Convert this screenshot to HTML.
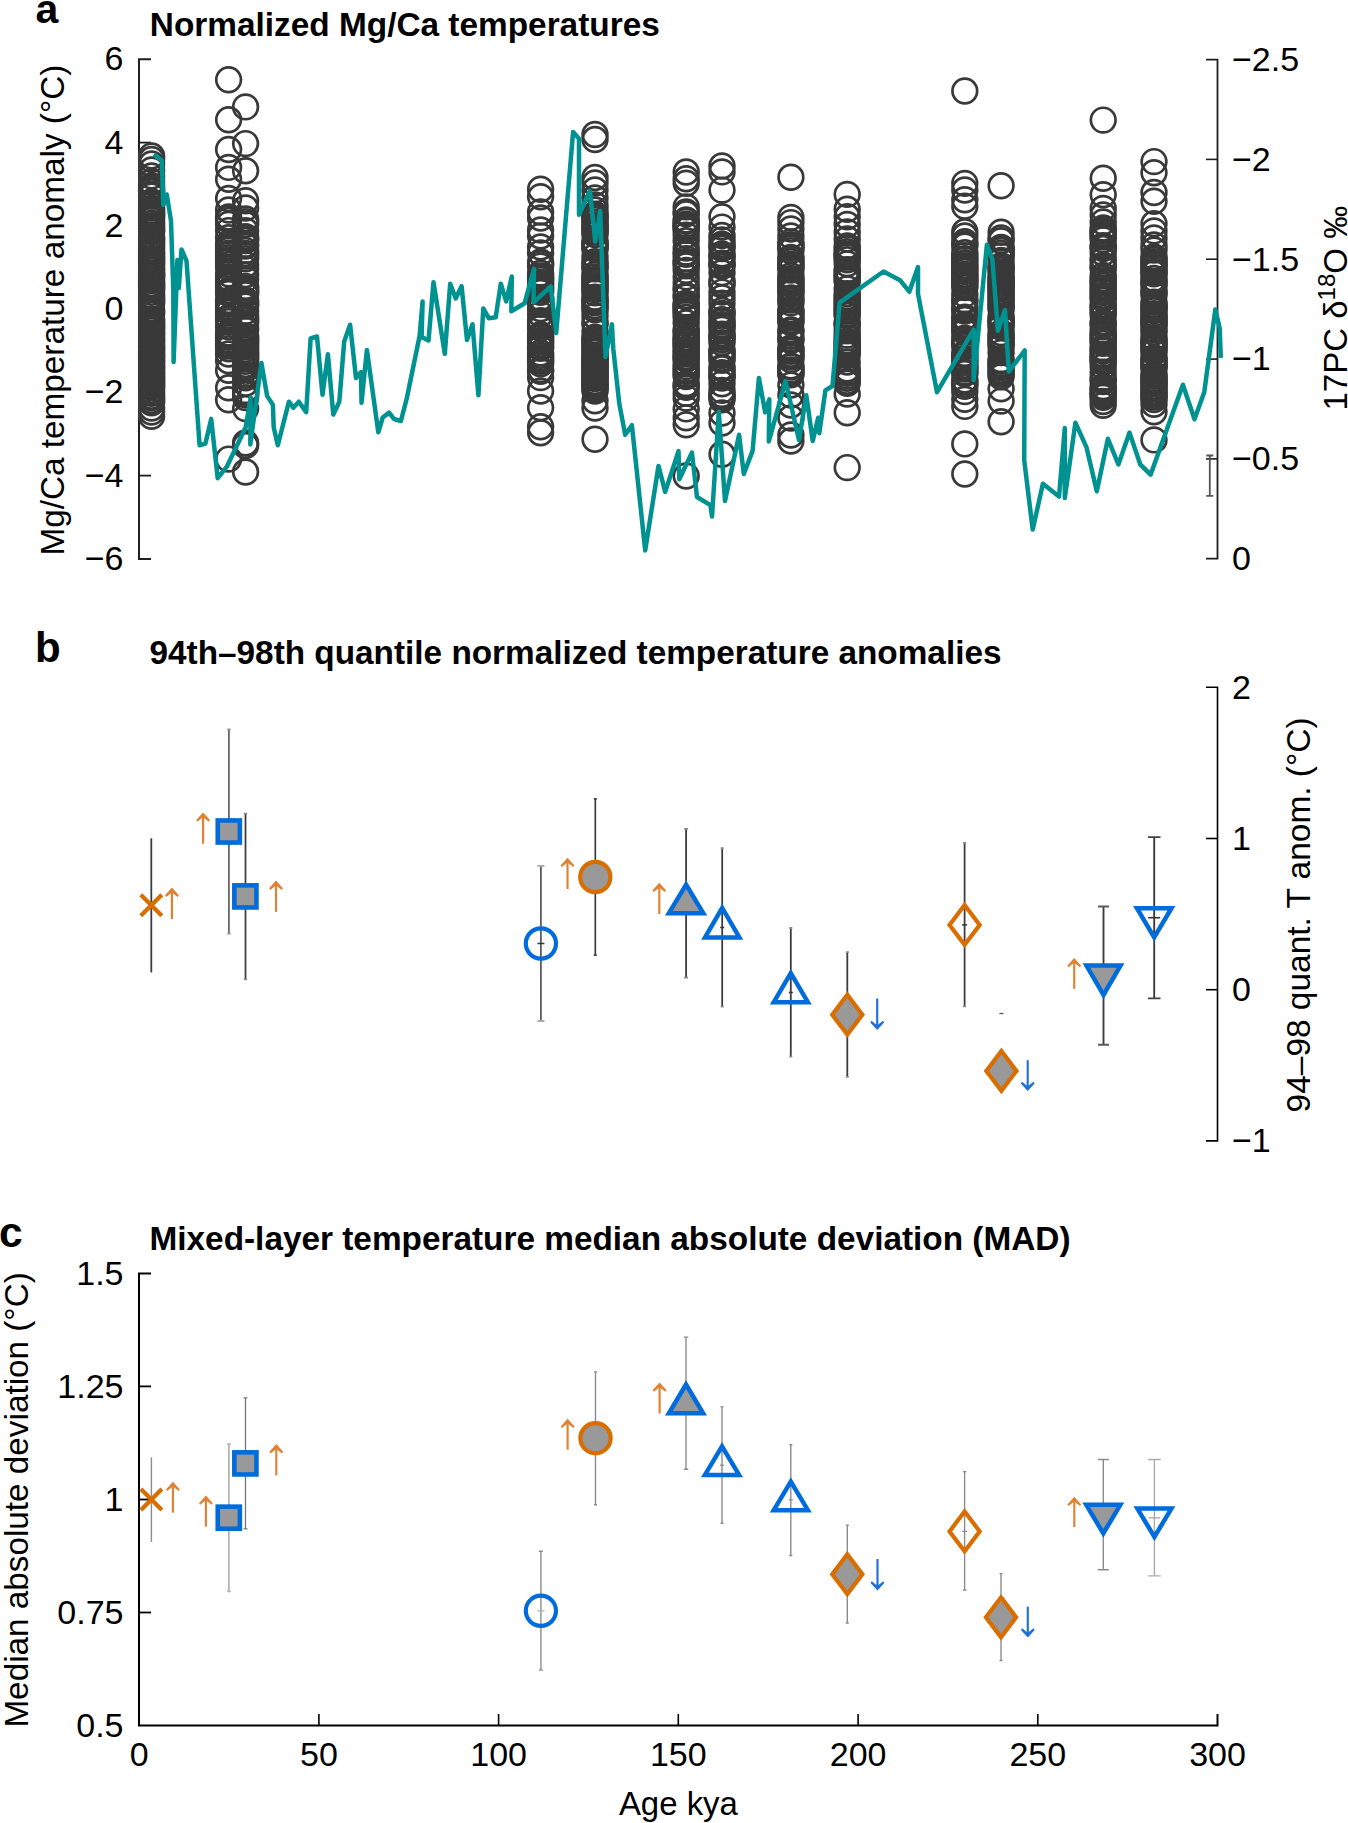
<!DOCTYPE html>
<html><head><meta charset="utf-8"><style>
html,body{margin:0;padding:0;background:#fff;width:1348px;height:1823px;overflow:hidden}
svg{display:block}
text{fill:#000}
</style></head><body>
<svg width="1348" height="1823" viewBox="0 0 1348 1823" font-family='"Liberation Sans", sans-serif'>
<text x="35.5" y="22.6" font-size="41" text-anchor="start" font-weight="bold" >a</text>
<text x="35.0" y="662.2" font-size="42" text-anchor="start" font-weight="bold" >b</text>
<text x="-1.0" y="1246.7" font-size="42.5" text-anchor="start" font-weight="bold" >c</text>
<text x="149.8" y="36.3" font-size="33" text-anchor="start" font-weight="bold" textLength="510" lengthAdjust="spacingAndGlyphs">Normalized Mg/Ca temperatures</text>
<text x="149.5" y="664.4" font-size="33" text-anchor="start" font-weight="bold" textLength="852" lengthAdjust="spacingAndGlyphs">94th–98th quantile normalized temperature anomalies</text>
<text x="149.5" y="1249.8" font-size="33" text-anchor="start" font-weight="bold" textLength="921" lengthAdjust="spacingAndGlyphs">Mixed-layer temperature median absolute deviation (MAD)</text>
<path d="M151,59.3 H139 V558.9 H151" fill="none" stroke="#1f1f1f" stroke-width="2"/>
<path d="M139,142.6 H151" stroke="#1f1f1f" stroke-width="1.8"/>
<path d="M139,225.8 H151" stroke="#1f1f1f" stroke-width="1.8"/>
<path d="M139,309.1 H151" stroke="#1f1f1f" stroke-width="1.8"/>
<path d="M139,392.4 H151" stroke="#1f1f1f" stroke-width="1.8"/>
<path d="M139,475.6 H151" stroke="#1f1f1f" stroke-width="1.8"/>
<text x="123.5" y="70.3" font-size="34" text-anchor="end" font-weight="normal" >6</text>
<text x="123.5" y="153.6" font-size="34" text-anchor="end" font-weight="normal" >4</text>
<text x="123.5" y="236.8" font-size="34" text-anchor="end" font-weight="normal" >2</text>
<text x="123.5" y="320.1" font-size="34" text-anchor="end" font-weight="normal" >0</text>
<text x="123.5" y="403.4" font-size="34" text-anchor="end" font-weight="normal" >−2</text>
<text x="123.5" y="486.6" font-size="34" text-anchor="end" font-weight="normal" >−4</text>
<text x="123.5" y="569.9" font-size="34" text-anchor="end" font-weight="normal" >−6</text>
<path d="M1206,59.6 H1217.5 V558.7 H1206" fill="none" stroke="#1f1f1f" stroke-width="1.8"/>
<path d="M1206,159.4 H1217.5" stroke="#1f1f1f" stroke-width="1.6"/>
<path d="M1206,259.2 H1217.5" stroke="#1f1f1f" stroke-width="1.6"/>
<path d="M1206,359.1 H1217.5" stroke="#1f1f1f" stroke-width="1.6"/>
<path d="M1206,458.9 H1217.5" stroke="#1f1f1f" stroke-width="1.6"/>
<text x="1232.0" y="70.9" font-size="34" text-anchor="start" font-weight="normal" >−2.5</text>
<text x="1232.0" y="170.7" font-size="34" text-anchor="start" font-weight="normal" >−2</text>
<text x="1232.0" y="270.5" font-size="34" text-anchor="start" font-weight="normal" >−1.5</text>
<text x="1232.0" y="370.4" font-size="34" text-anchor="start" font-weight="normal" >−1</text>
<text x="1232.0" y="470.2" font-size="34" text-anchor="start" font-weight="normal" >−0.5</text>
<text x="1232.0" y="570.0" font-size="34" text-anchor="start" font-weight="normal" >0</text>
<text transform="translate(64.3,555.6) rotate(-90)" font-size="34" textLength="491" lengthAdjust="spacingAndGlyphs">Mg/Ca temperature anomaly (°C)</text>
<text transform="translate(1347,410.5) rotate(-90)" font-size="33">17PC δ<tspan font-size="24" dy="-12">18</tspan><tspan dy="12">O ‰</tspan></text>
<path d="M1206,687.3 H1217.5 V1140.9 H1206" fill="none" stroke="#000" stroke-width="1.6"/>
<path d="M1206,838.5 H1217.5" stroke="#000" stroke-width="1.6"/>
<path d="M1206,989.7 H1217.5" stroke="#000" stroke-width="1.6"/>
<text x="1232.0" y="698.6" font-size="34" text-anchor="start" font-weight="normal" >2</text>
<text x="1232.0" y="849.8" font-size="34" text-anchor="start" font-weight="normal" >1</text>
<text x="1232.0" y="1001.0" font-size="34" text-anchor="start" font-weight="normal" >0</text>
<text x="1232.0" y="1152.2" font-size="34" text-anchor="start" font-weight="normal" >−1</text>
<text transform="translate(1309.6,1112.4) rotate(-90)" font-size="34" textLength="395" lengthAdjust="spacingAndGlyphs">94–98 quant. T anom. (°C)</text>
<path d="M151,1273.4 H139 V1725.5 H1217.5 V1714.0" fill="none" stroke="#000" stroke-width="2"/>
<path d="M139,1386.4 H151" stroke="#000" stroke-width="1.8"/>
<path d="M139,1499.5 H151" stroke="#000" stroke-width="1.8"/>
<path d="M139,1612.5 H151" stroke="#000" stroke-width="1.8"/>
<path d="M318.9,1725.5 V1714.0" stroke="#000" stroke-width="1.6"/>
<path d="M498.6,1725.5 V1714.0" stroke="#000" stroke-width="1.6"/>
<path d="M678.3,1725.5 V1714.0" stroke="#000" stroke-width="1.6"/>
<path d="M858.1,1725.5 V1714.0" stroke="#000" stroke-width="1.6"/>
<path d="M1037.8,1725.5 V1714.0" stroke="#000" stroke-width="1.6"/>
<text x="123.5" y="1284.7" font-size="34" text-anchor="end" font-weight="normal" >1.5</text>
<text x="123.5" y="1397.7" font-size="34" text-anchor="end" font-weight="normal" >1.25</text>
<text x="123.5" y="1510.8" font-size="34" text-anchor="end" font-weight="normal" >1</text>
<text x="123.5" y="1623.8" font-size="34" text-anchor="end" font-weight="normal" >0.75</text>
<text x="123.5" y="1736.8" font-size="34" text-anchor="end" font-weight="normal" >0.5</text>
<text x="139.2" y="1766.0" font-size="34" text-anchor="middle" font-weight="normal" >0</text>
<text x="318.9" y="1766.0" font-size="34" text-anchor="middle" font-weight="normal" >50</text>
<text x="498.6" y="1766.0" font-size="34" text-anchor="middle" font-weight="normal" >100</text>
<text x="678.3" y="1766.0" font-size="34" text-anchor="middle" font-weight="normal" >150</text>
<text x="858.1" y="1766.0" font-size="34" text-anchor="middle" font-weight="normal" >200</text>
<text x="1037.8" y="1766.0" font-size="34" text-anchor="middle" font-weight="normal" >250</text>
<text x="1217.5" y="1766.0" font-size="34" text-anchor="middle" font-weight="normal" >300</text>
<text x="678.4" y="1814.8" font-size="34" text-anchor="middle" font-weight="normal" textLength="119" lengthAdjust="spacingAndGlyphs">Age kya</text>
<text transform="translate(27.8,1727.6) rotate(-90)" font-size="34" textLength="455.4" lengthAdjust="spacingAndGlyphs">Median absolute deviation (°C)</text>
<g fill="none" stroke="#393939" stroke-width="2.7"><circle cx="151.6" cy="156.0" r="12.35"/><circle cx="151.6" cy="159.5" r="12.35"/><circle cx="151.6" cy="164.0" r="12.35"/><circle cx="151.6" cy="170.0" r="12.35"/><circle cx="151.6" cy="176.0" r="12.35"/><circle cx="151.6" cy="182.0" r="12.35"/><circle cx="151.6" cy="186.0" r="12.35"/><circle cx="151.6" cy="188.2" r="12.35"/><circle cx="151.6" cy="190.5" r="12.35"/><circle cx="151.6" cy="191.8" r="12.35"/><circle cx="151.6" cy="194.5" r="12.35"/><circle cx="151.6" cy="196.1" r="12.35"/><circle cx="151.6" cy="201.8" r="12.35"/><circle cx="151.6" cy="203.8" r="12.35"/><circle cx="151.6" cy="205.3" r="12.35"/><circle cx="151.6" cy="208.1" r="12.35"/><circle cx="151.6" cy="210.6" r="12.35"/><circle cx="151.6" cy="211.9" r="12.35"/><circle cx="151.6" cy="214.2" r="12.35"/><circle cx="151.6" cy="215.4" r="12.35"/><circle cx="151.6" cy="217.5" r="12.35"/><circle cx="151.6" cy="220.3" r="12.35"/><circle cx="151.6" cy="223.1" r="12.35"/><circle cx="151.6" cy="225.8" r="12.35"/><circle cx="151.6" cy="228.6" r="12.35"/><circle cx="151.6" cy="230.0" r="12.35"/><circle cx="151.6" cy="231.6" r="12.35"/><circle cx="151.6" cy="237.1" r="12.35"/><circle cx="151.6" cy="238.9" r="12.35"/><circle cx="151.6" cy="240.8" r="12.35"/><circle cx="151.6" cy="243.0" r="12.35"/><circle cx="151.6" cy="245.8" r="12.35"/><circle cx="151.6" cy="248.7" r="12.35"/><circle cx="151.6" cy="251.7" r="12.35"/><circle cx="151.6" cy="253.2" r="12.35"/><circle cx="151.6" cy="256.1" r="12.35"/><circle cx="151.6" cy="258.4" r="12.35"/><circle cx="151.6" cy="259.9" r="12.35"/><circle cx="151.6" cy="262.2" r="12.35"/><circle cx="151.6" cy="263.5" r="12.35"/><circle cx="151.6" cy="266.5" r="12.35"/><circle cx="151.6" cy="269.1" r="12.35"/><circle cx="151.6" cy="270.6" r="12.35"/><circle cx="151.6" cy="273.2" r="12.35"/><circle cx="151.6" cy="274.4" r="12.35"/><circle cx="151.6" cy="275.7" r="12.35"/><circle cx="151.6" cy="277.5" r="12.35"/><circle cx="151.6" cy="280.5" r="12.35"/><circle cx="151.6" cy="283.5" r="12.35"/><circle cx="151.6" cy="284.8" r="12.35"/><circle cx="151.6" cy="286.1" r="12.35"/><circle cx="151.6" cy="288.0" r="12.35"/><circle cx="151.6" cy="289.5" r="12.35"/><circle cx="151.6" cy="292.3" r="12.35"/><circle cx="151.6" cy="295.2" r="12.35"/><circle cx="151.6" cy="297.1" r="12.35"/><circle cx="151.6" cy="299.2" r="12.35"/><circle cx="151.6" cy="301.5" r="12.35"/><circle cx="151.6" cy="303.8" r="12.35"/><circle cx="151.6" cy="309.6" r="12.35"/><circle cx="151.6" cy="312.1" r="12.35"/><circle cx="151.6" cy="313.8" r="12.35"/><circle cx="151.6" cy="319.6" r="12.35"/><circle cx="151.6" cy="320.8" r="12.35"/><circle cx="151.6" cy="323.1" r="12.35"/><circle cx="151.6" cy="325.4" r="12.35"/><circle cx="151.6" cy="326.7" r="12.35"/><circle cx="151.6" cy="328.7" r="12.35"/><circle cx="151.6" cy="330.6" r="12.35"/><circle cx="151.6" cy="333.1" r="12.35"/><circle cx="151.6" cy="334.4" r="12.35"/><circle cx="151.6" cy="337.3" r="12.35"/><circle cx="151.6" cy="339.4" r="12.35"/><circle cx="151.6" cy="341.1" r="12.35"/><circle cx="151.6" cy="342.9" r="12.35"/><circle cx="151.6" cy="345.2" r="12.35"/><circle cx="151.6" cy="347.1" r="12.35"/><circle cx="151.6" cy="348.3" r="12.35"/><circle cx="151.6" cy="350.8" r="12.35"/><circle cx="151.6" cy="352.4" r="12.35"/><circle cx="151.6" cy="354.1" r="12.35"/><circle cx="151.6" cy="356.0" r="12.35"/><circle cx="151.6" cy="357.4" r="12.35"/><circle cx="151.6" cy="359.2" r="12.35"/><circle cx="151.6" cy="361.2" r="12.35"/><circle cx="151.6" cy="362.7" r="12.35"/><circle cx="151.6" cy="365.1" r="12.35"/><circle cx="151.6" cy="367.1" r="12.35"/><circle cx="151.6" cy="368.5" r="12.35"/><circle cx="151.6" cy="370.1" r="12.35"/><circle cx="151.6" cy="372.8" r="12.35"/><circle cx="151.6" cy="374.5" r="12.35"/><circle cx="151.6" cy="376.8" r="12.35"/><circle cx="151.6" cy="378.7" r="12.35"/><circle cx="151.6" cy="380.4" r="12.35"/><circle cx="151.6" cy="382.1" r="12.35"/><circle cx="151.6" cy="384.0" r="12.35"/><circle cx="151.6" cy="386.0" r="12.35"/><circle cx="151.6" cy="387.4" r="12.35"/><circle cx="151.6" cy="390.3" r="12.35"/><circle cx="151.6" cy="393.3" r="12.35"/><circle cx="151.6" cy="396.2" r="12.35"/><circle cx="151.6" cy="397.8" r="12.35"/><circle cx="151.6" cy="400.5" r="12.35"/><circle cx="151.6" cy="402.7" r="12.35"/><circle cx="151.6" cy="408.0" r="12.35"/><circle cx="151.6" cy="412.0" r="12.35"/><circle cx="151.6" cy="416.3" r="12.35"/><circle cx="228.6" cy="79.8" r="12.35"/><circle cx="228.6" cy="119.8" r="12.35"/><circle cx="228.6" cy="149.5" r="12.35"/><circle cx="228.6" cy="167.4" r="12.35"/><circle cx="228.6" cy="179.3" r="12.35"/><circle cx="228.6" cy="198.5" r="12.35"/><circle cx="228.6" cy="210.0" r="12.35"/><circle cx="228.6" cy="217.0" r="12.35"/><circle cx="228.6" cy="218.3" r="12.35"/><circle cx="228.6" cy="220.0" r="12.35"/><circle cx="228.6" cy="224.2" r="12.35"/><circle cx="228.6" cy="230.6" r="12.35"/><circle cx="228.6" cy="237.8" r="12.35"/><circle cx="228.6" cy="243.8" r="12.35"/><circle cx="228.6" cy="246.3" r="12.35"/><circle cx="228.6" cy="248.1" r="12.35"/><circle cx="228.6" cy="250.2" r="12.35"/><circle cx="228.6" cy="253.1" r="12.35"/><circle cx="228.6" cy="254.9" r="12.35"/><circle cx="228.6" cy="257.7" r="12.35"/><circle cx="228.6" cy="260.3" r="12.35"/><circle cx="228.6" cy="261.8" r="12.35"/><circle cx="228.6" cy="264.5" r="12.35"/><circle cx="228.6" cy="267.1" r="12.35"/><circle cx="228.6" cy="273.9" r="12.35"/><circle cx="228.6" cy="278.0" r="12.35"/><circle cx="228.6" cy="280.7" r="12.35"/><circle cx="228.6" cy="282.4" r="12.35"/><circle cx="228.6" cy="284.6" r="12.35"/><circle cx="228.6" cy="286.6" r="12.35"/><circle cx="228.6" cy="290.6" r="12.35"/><circle cx="228.6" cy="292.0" r="12.35"/><circle cx="228.6" cy="293.4" r="12.35"/><circle cx="228.6" cy="300.4" r="12.35"/><circle cx="228.6" cy="302.5" r="12.35"/><circle cx="228.6" cy="304.2" r="12.35"/><circle cx="228.6" cy="306.6" r="12.35"/><circle cx="228.6" cy="308.4" r="12.35"/><circle cx="228.6" cy="310.2" r="12.35"/><circle cx="228.6" cy="312.4" r="12.35"/><circle cx="228.6" cy="317.8" r="12.35"/><circle cx="228.6" cy="319.3" r="12.35"/><circle cx="228.6" cy="321.6" r="12.35"/><circle cx="228.6" cy="326.9" r="12.35"/><circle cx="228.6" cy="333.1" r="12.35"/><circle cx="228.6" cy="335.0" r="12.35"/><circle cx="228.6" cy="337.4" r="12.35"/><circle cx="228.6" cy="339.9" r="12.35"/><circle cx="228.6" cy="341.5" r="12.35"/><circle cx="228.6" cy="344.0" r="12.35"/><circle cx="228.6" cy="345.9" r="12.35"/><circle cx="228.6" cy="348.7" r="12.35"/><circle cx="228.6" cy="354.0" r="12.35"/><circle cx="228.6" cy="360.8" r="12.35"/><circle cx="228.6" cy="370.2" r="12.35"/><circle cx="228.6" cy="387.8" r="12.35"/><circle cx="228.6" cy="399.8" r="12.35"/><circle cx="228.6" cy="459.1" r="12.35"/><circle cx="245.6" cy="106.9" r="12.35"/><circle cx="245.6" cy="143.6" r="12.35"/><circle cx="245.6" cy="170.8" r="12.35"/><circle cx="245.6" cy="200.7" r="12.35"/><circle cx="245.6" cy="208.0" r="12.35"/><circle cx="245.6" cy="219.0" r="12.35"/><circle cx="245.6" cy="221.7" r="12.35"/><circle cx="245.6" cy="224.5" r="12.35"/><circle cx="245.6" cy="230.8" r="12.35"/><circle cx="245.6" cy="236.8" r="12.35"/><circle cx="245.6" cy="239.0" r="12.35"/><circle cx="245.6" cy="240.5" r="12.35"/><circle cx="245.6" cy="244.6" r="12.35"/><circle cx="245.6" cy="246.0" r="12.35"/><circle cx="245.6" cy="250.6" r="12.35"/><circle cx="245.6" cy="253.4" r="12.35"/><circle cx="245.6" cy="256.1" r="12.35"/><circle cx="245.6" cy="258.8" r="12.35"/><circle cx="245.6" cy="264.8" r="12.35"/><circle cx="245.6" cy="268.9" r="12.35"/><circle cx="245.6" cy="274.7" r="12.35"/><circle cx="245.6" cy="279.1" r="12.35"/><circle cx="245.6" cy="286.4" r="12.35"/><circle cx="245.6" cy="288.2" r="12.35"/><circle cx="245.6" cy="290.8" r="12.35"/><circle cx="245.6" cy="292.4" r="12.35"/><circle cx="245.6" cy="294.7" r="12.35"/><circle cx="245.6" cy="300.1" r="12.35"/><circle cx="245.6" cy="302.0" r="12.35"/><circle cx="245.6" cy="303.9" r="12.35"/><circle cx="245.6" cy="306.0" r="12.35"/><circle cx="245.6" cy="311.5" r="12.35"/><circle cx="245.6" cy="316.0" r="12.35"/><circle cx="245.6" cy="318.6" r="12.35"/><circle cx="245.6" cy="320.7" r="12.35"/><circle cx="245.6" cy="323.1" r="12.35"/><circle cx="245.6" cy="327.6" r="12.35"/><circle cx="245.6" cy="330.2" r="12.35"/><circle cx="245.6" cy="336.0" r="12.35"/><circle cx="245.6" cy="338.5" r="12.35"/><circle cx="245.6" cy="340.1" r="12.35"/><circle cx="245.6" cy="342.4" r="12.35"/><circle cx="245.6" cy="344.0" r="12.35"/><circle cx="245.6" cy="346.9" r="12.35"/><circle cx="245.6" cy="349.4" r="12.35"/><circle cx="245.6" cy="352.1" r="12.35"/><circle cx="245.6" cy="353.8" r="12.35"/><circle cx="245.6" cy="355.1" r="12.35"/><circle cx="245.6" cy="356.9" r="12.35"/><circle cx="245.6" cy="358.8" r="12.35"/><circle cx="245.6" cy="361.4" r="12.35"/><circle cx="245.6" cy="364.4" r="12.35"/><circle cx="245.6" cy="366.6" r="12.35"/><circle cx="245.6" cy="369.4" r="12.35"/><circle cx="245.6" cy="375.3" r="12.35"/><circle cx="245.6" cy="377.8" r="12.35"/><circle cx="245.6" cy="383.2" r="12.35"/><circle cx="245.6" cy="390.6" r="12.35"/><circle cx="245.6" cy="392.2" r="12.35"/><circle cx="245.6" cy="394.7" r="12.35"/><circle cx="245.6" cy="397.6" r="12.35"/><circle cx="245.6" cy="408.6" r="12.35"/><circle cx="245.6" cy="443.0" r="12.35"/><circle cx="245.6" cy="445.5" r="12.35"/><circle cx="245.6" cy="472.0" r="12.35"/><circle cx="540.6" cy="189.2" r="12.35"/><circle cx="540.6" cy="196.8" r="12.35"/><circle cx="540.6" cy="212.0" r="12.35"/><circle cx="540.6" cy="218.0" r="12.35"/><circle cx="540.6" cy="230.0" r="12.35"/><circle cx="540.6" cy="236.0" r="12.35"/><circle cx="540.6" cy="247.0" r="12.35"/><circle cx="540.6" cy="253.0" r="12.35"/><circle cx="540.6" cy="262.0" r="12.35"/><circle cx="540.6" cy="263.7" r="12.35"/><circle cx="540.6" cy="266.1" r="12.35"/><circle cx="540.6" cy="273.3" r="12.35"/><circle cx="540.6" cy="276.0" r="12.35"/><circle cx="540.6" cy="278.0" r="12.35"/><circle cx="540.6" cy="279.4" r="12.35"/><circle cx="540.6" cy="282.1" r="12.35"/><circle cx="540.6" cy="283.9" r="12.35"/><circle cx="540.6" cy="286.3" r="12.35"/><circle cx="540.6" cy="288.1" r="12.35"/><circle cx="540.6" cy="290.2" r="12.35"/><circle cx="540.6" cy="292.4" r="12.35"/><circle cx="540.6" cy="297.8" r="12.35"/><circle cx="540.6" cy="299.2" r="12.35"/><circle cx="540.6" cy="301.6" r="12.35"/><circle cx="540.6" cy="304.4" r="12.35"/><circle cx="540.6" cy="308.8" r="12.35"/><circle cx="540.6" cy="314.1" r="12.35"/><circle cx="540.6" cy="320.7" r="12.35"/><circle cx="540.6" cy="323.1" r="12.35"/><circle cx="540.6" cy="325.8" r="12.35"/><circle cx="540.6" cy="328.3" r="12.35"/><circle cx="540.6" cy="334.7" r="12.35"/><circle cx="540.6" cy="336.1" r="12.35"/><circle cx="540.6" cy="337.9" r="12.35"/><circle cx="540.6" cy="340.4" r="12.35"/><circle cx="540.6" cy="341.9" r="12.35"/><circle cx="540.6" cy="344.2" r="12.35"/><circle cx="540.6" cy="347.0" r="12.35"/><circle cx="540.6" cy="348.4" r="12.35"/><circle cx="540.6" cy="352.9" r="12.35"/><circle cx="540.6" cy="355.4" r="12.35"/><circle cx="540.6" cy="357.6" r="12.35"/><circle cx="540.6" cy="359.7" r="12.35"/><circle cx="540.6" cy="361.2" r="12.35"/><circle cx="540.6" cy="363.7" r="12.35"/><circle cx="540.6" cy="369.6" r="12.35"/><circle cx="540.6" cy="371.4" r="12.35"/><circle cx="540.6" cy="377.6" r="12.35"/><circle cx="540.6" cy="391.0" r="12.35"/><circle cx="540.6" cy="407.7" r="12.35"/><circle cx="540.6" cy="426.8" r="12.35"/><circle cx="540.6" cy="432.8" r="12.35"/><circle cx="595.0" cy="134.5" r="12.35"/><circle cx="595.0" cy="139.5" r="12.35"/><circle cx="595.0" cy="177.5" r="12.35"/><circle cx="595.0" cy="183.0" r="12.35"/><circle cx="595.0" cy="190.0" r="12.35"/><circle cx="595.0" cy="198.0" r="12.35"/><circle cx="595.0" cy="205.0" r="12.35"/><circle cx="595.0" cy="210.0" r="12.35"/><circle cx="595.0" cy="214.1" r="12.35"/><circle cx="595.0" cy="215.8" r="12.35"/><circle cx="595.0" cy="217.6" r="12.35"/><circle cx="595.0" cy="219.6" r="12.35"/><circle cx="595.0" cy="222.1" r="12.35"/><circle cx="595.0" cy="224.9" r="12.35"/><circle cx="595.0" cy="226.6" r="12.35"/><circle cx="595.0" cy="228.0" r="12.35"/><circle cx="595.0" cy="230.5" r="12.35"/><circle cx="595.0" cy="232.0" r="12.35"/><circle cx="595.0" cy="234.5" r="12.35"/><circle cx="595.0" cy="241.2" r="12.35"/><circle cx="595.0" cy="242.6" r="12.35"/><circle cx="595.0" cy="244.2" r="12.35"/><circle cx="595.0" cy="246.4" r="12.35"/><circle cx="595.0" cy="248.1" r="12.35"/><circle cx="595.0" cy="249.3" r="12.35"/><circle cx="595.0" cy="256.4" r="12.35"/><circle cx="595.0" cy="261.8" r="12.35"/><circle cx="595.0" cy="264.0" r="12.35"/><circle cx="595.0" cy="267.0" r="12.35"/><circle cx="595.0" cy="268.7" r="12.35"/><circle cx="595.0" cy="274.4" r="12.35"/><circle cx="595.0" cy="276.9" r="12.35"/><circle cx="595.0" cy="279.5" r="12.35"/><circle cx="595.0" cy="281.6" r="12.35"/><circle cx="595.0" cy="283.6" r="12.35"/><circle cx="595.0" cy="285.8" r="12.35"/><circle cx="595.0" cy="287.9" r="12.35"/><circle cx="595.0" cy="289.9" r="12.35"/><circle cx="595.0" cy="292.8" r="12.35"/><circle cx="595.0" cy="297.3" r="12.35"/><circle cx="595.0" cy="299.6" r="12.35"/><circle cx="595.0" cy="301.4" r="12.35"/><circle cx="595.0" cy="302.8" r="12.35"/><circle cx="595.0" cy="305.7" r="12.35"/><circle cx="595.0" cy="308.4" r="12.35"/><circle cx="595.0" cy="309.9" r="12.35"/><circle cx="595.0" cy="316.0" r="12.35"/><circle cx="595.0" cy="322.5" r="12.35"/><circle cx="595.0" cy="324.3" r="12.35"/><circle cx="595.0" cy="331.6" r="12.35"/><circle cx="595.0" cy="337.1" r="12.35"/><circle cx="595.0" cy="339.2" r="12.35"/><circle cx="595.0" cy="340.4" r="12.35"/><circle cx="595.0" cy="342.0" r="12.35"/><circle cx="595.0" cy="344.1" r="12.35"/><circle cx="595.0" cy="346.3" r="12.35"/><circle cx="595.0" cy="348.6" r="12.35"/><circle cx="595.0" cy="350.7" r="12.35"/><circle cx="595.0" cy="352.6" r="12.35"/><circle cx="595.0" cy="355.4" r="12.35"/><circle cx="595.0" cy="357.3" r="12.35"/><circle cx="595.0" cy="359.4" r="12.35"/><circle cx="595.0" cy="361.0" r="12.35"/><circle cx="595.0" cy="362.6" r="12.35"/><circle cx="595.0" cy="364.1" r="12.35"/><circle cx="595.0" cy="365.6" r="12.35"/><circle cx="595.0" cy="367.1" r="12.35"/><circle cx="595.0" cy="368.6" r="12.35"/><circle cx="595.0" cy="370.0" r="12.35"/><circle cx="595.0" cy="372.1" r="12.35"/><circle cx="595.0" cy="373.3" r="12.35"/><circle cx="595.0" cy="375.3" r="12.35"/><circle cx="595.0" cy="376.6" r="12.35"/><circle cx="595.0" cy="378.5" r="12.35"/><circle cx="595.0" cy="381.4" r="12.35"/><circle cx="595.0" cy="382.8" r="12.35"/><circle cx="595.0" cy="384.3" r="12.35"/><circle cx="595.0" cy="386.1" r="12.35"/><circle cx="595.0" cy="387.4" r="12.35"/><circle cx="595.0" cy="389.1" r="12.35"/><circle cx="595.0" cy="391.1" r="12.35"/><circle cx="595.0" cy="400.7" r="12.35"/><circle cx="595.0" cy="408.0" r="12.35"/><circle cx="595.0" cy="439.3" r="12.35"/><circle cx="686.2" cy="172.0" r="12.35"/><circle cx="686.2" cy="178.8" r="12.35"/><circle cx="686.2" cy="183.2" r="12.35"/><circle cx="686.2" cy="206.9" r="12.35"/><circle cx="686.2" cy="212.0" r="12.35"/><circle cx="686.2" cy="213.7" r="12.35"/><circle cx="686.2" cy="219.9" r="12.35"/><circle cx="686.2" cy="221.2" r="12.35"/><circle cx="686.2" cy="224.2" r="12.35"/><circle cx="686.2" cy="225.4" r="12.35"/><circle cx="686.2" cy="226.8" r="12.35"/><circle cx="686.2" cy="228.0" r="12.35"/><circle cx="686.2" cy="230.4" r="12.35"/><circle cx="686.2" cy="235.1" r="12.35"/><circle cx="686.2" cy="240.8" r="12.35"/><circle cx="686.2" cy="248.0" r="12.35"/><circle cx="686.2" cy="252.1" r="12.35"/><circle cx="686.2" cy="254.4" r="12.35"/><circle cx="686.2" cy="258.7" r="12.35"/><circle cx="686.2" cy="261.4" r="12.35"/><circle cx="686.2" cy="263.3" r="12.35"/><circle cx="686.2" cy="265.8" r="12.35"/><circle cx="686.2" cy="270.4" r="12.35"/><circle cx="686.2" cy="276.9" r="12.35"/><circle cx="686.2" cy="282.9" r="12.35"/><circle cx="686.2" cy="288.2" r="12.35"/><circle cx="686.2" cy="289.8" r="12.35"/><circle cx="686.2" cy="295.4" r="12.35"/><circle cx="686.2" cy="297.0" r="12.35"/><circle cx="686.2" cy="303.1" r="12.35"/><circle cx="686.2" cy="305.0" r="12.35"/><circle cx="686.2" cy="306.4" r="12.35"/><circle cx="686.2" cy="307.7" r="12.35"/><circle cx="686.2" cy="310.3" r="12.35"/><circle cx="686.2" cy="311.6" r="12.35"/><circle cx="686.2" cy="314.3" r="12.35"/><circle cx="686.2" cy="317.1" r="12.35"/><circle cx="686.2" cy="322.7" r="12.35"/><circle cx="686.2" cy="329.3" r="12.35"/><circle cx="686.2" cy="331.1" r="12.35"/><circle cx="686.2" cy="333.1" r="12.35"/><circle cx="686.2" cy="337.4" r="12.35"/><circle cx="686.2" cy="338.8" r="12.35"/><circle cx="686.2" cy="341.2" r="12.35"/><circle cx="686.2" cy="342.5" r="12.35"/><circle cx="686.2" cy="344.8" r="12.35"/><circle cx="686.2" cy="346.1" r="12.35"/><circle cx="686.2" cy="349.0" r="12.35"/><circle cx="686.2" cy="351.2" r="12.35"/><circle cx="686.2" cy="353.8" r="12.35"/><circle cx="686.2" cy="356.4" r="12.35"/><circle cx="686.2" cy="358.0" r="12.35"/><circle cx="686.2" cy="359.3" r="12.35"/><circle cx="686.2" cy="363.7" r="12.35"/><circle cx="686.2" cy="366.6" r="12.35"/><circle cx="686.2" cy="369.5" r="12.35"/><circle cx="686.2" cy="371.5" r="12.35"/><circle cx="686.2" cy="374.2" r="12.35"/><circle cx="686.2" cy="376.5" r="12.35"/><circle cx="686.2" cy="383.6" r="12.35"/><circle cx="686.2" cy="385.9" r="12.35"/><circle cx="686.2" cy="387.3" r="12.35"/><circle cx="686.2" cy="393.4" r="12.35"/><circle cx="686.2" cy="398.1" r="12.35"/><circle cx="686.2" cy="408.9" r="12.35"/><circle cx="686.2" cy="417.7" r="12.35"/><circle cx="686.2" cy="424.8" r="12.35"/><circle cx="686.2" cy="476.0" r="12.35"/><circle cx="722.0" cy="166.0" r="12.35"/><circle cx="722.0" cy="171.9" r="12.35"/><circle cx="722.0" cy="190.1" r="12.35"/><circle cx="722.0" cy="216.8" r="12.35"/><circle cx="722.0" cy="227.1" r="12.35"/><circle cx="722.0" cy="235.5" r="12.35"/><circle cx="722.0" cy="240.0" r="12.35"/><circle cx="722.0" cy="244.3" r="12.35"/><circle cx="722.0" cy="246.3" r="12.35"/><circle cx="722.0" cy="248.5" r="12.35"/><circle cx="722.0" cy="254.0" r="12.35"/><circle cx="722.0" cy="256.3" r="12.35"/><circle cx="722.0" cy="258.1" r="12.35"/><circle cx="722.0" cy="263.3" r="12.35"/><circle cx="722.0" cy="264.7" r="12.35"/><circle cx="722.0" cy="266.2" r="12.35"/><circle cx="722.0" cy="272.7" r="12.35"/><circle cx="722.0" cy="280.2" r="12.35"/><circle cx="722.0" cy="283.0" r="12.35"/><circle cx="722.0" cy="285.0" r="12.35"/><circle cx="722.0" cy="292.1" r="12.35"/><circle cx="722.0" cy="297.8" r="12.35"/><circle cx="722.0" cy="303.3" r="12.35"/><circle cx="722.0" cy="310.5" r="12.35"/><circle cx="722.0" cy="313.4" r="12.35"/><circle cx="722.0" cy="314.7" r="12.35"/><circle cx="722.0" cy="319.8" r="12.35"/><circle cx="722.0" cy="322.1" r="12.35"/><circle cx="722.0" cy="324.7" r="12.35"/><circle cx="722.0" cy="326.6" r="12.35"/><circle cx="722.0" cy="329.2" r="12.35"/><circle cx="722.0" cy="334.2" r="12.35"/><circle cx="722.0" cy="335.9" r="12.35"/><circle cx="722.0" cy="337.3" r="12.35"/><circle cx="722.0" cy="339.8" r="12.35"/><circle cx="722.0" cy="342.8" r="12.35"/><circle cx="722.0" cy="349.9" r="12.35"/><circle cx="722.0" cy="351.3" r="12.35"/><circle cx="722.0" cy="353.4" r="12.35"/><circle cx="722.0" cy="355.6" r="12.35"/><circle cx="722.0" cy="358.3" r="12.35"/><circle cx="722.0" cy="360.3" r="12.35"/><circle cx="722.0" cy="367.2" r="12.35"/><circle cx="722.0" cy="368.8" r="12.35"/><circle cx="722.0" cy="372.8" r="12.35"/><circle cx="722.0" cy="375.0" r="12.35"/><circle cx="722.0" cy="376.5" r="12.35"/><circle cx="722.0" cy="378.0" r="12.35"/><circle cx="722.0" cy="383.7" r="12.35"/><circle cx="722.0" cy="390.4" r="12.35"/><circle cx="722.0" cy="394.5" r="12.35"/><circle cx="722.0" cy="395.8" r="12.35"/><circle cx="722.0" cy="397.6" r="12.35"/><circle cx="722.0" cy="399.8" r="12.35"/><circle cx="722.0" cy="413.0" r="12.35"/><circle cx="722.0" cy="423.0" r="12.35"/><circle cx="722.0" cy="454.2" r="12.35"/><circle cx="790.9" cy="177.2" r="12.35"/><circle cx="790.9" cy="217.4" r="12.35"/><circle cx="790.9" cy="222.6" r="12.35"/><circle cx="790.9" cy="229.0" r="12.35"/><circle cx="790.9" cy="236.0" r="12.35"/><circle cx="790.9" cy="242.0" r="12.35"/><circle cx="790.9" cy="244.6" r="12.35"/><circle cx="790.9" cy="246.3" r="12.35"/><circle cx="790.9" cy="248.3" r="12.35"/><circle cx="790.9" cy="250.7" r="12.35"/><circle cx="790.9" cy="257.5" r="12.35"/><circle cx="790.9" cy="259.0" r="12.35"/><circle cx="790.9" cy="261.6" r="12.35"/><circle cx="790.9" cy="264.3" r="12.35"/><circle cx="790.9" cy="266.0" r="12.35"/><circle cx="790.9" cy="267.2" r="12.35"/><circle cx="790.9" cy="270.0" r="12.35"/><circle cx="790.9" cy="275.7" r="12.35"/><circle cx="790.9" cy="278.5" r="12.35"/><circle cx="790.9" cy="280.8" r="12.35"/><circle cx="790.9" cy="283.0" r="12.35"/><circle cx="790.9" cy="284.5" r="12.35"/><circle cx="790.9" cy="287.5" r="12.35"/><circle cx="790.9" cy="289.4" r="12.35"/><circle cx="790.9" cy="291.4" r="12.35"/><circle cx="790.9" cy="293.4" r="12.35"/><circle cx="790.9" cy="298.0" r="12.35"/><circle cx="790.9" cy="300.1" r="12.35"/><circle cx="790.9" cy="302.9" r="12.35"/><circle cx="790.9" cy="310.1" r="12.35"/><circle cx="790.9" cy="311.4" r="12.35"/><circle cx="790.9" cy="313.6" r="12.35"/><circle cx="790.9" cy="315.3" r="12.35"/><circle cx="790.9" cy="318.1" r="12.35"/><circle cx="790.9" cy="320.5" r="12.35"/><circle cx="790.9" cy="322.6" r="12.35"/><circle cx="790.9" cy="330.0" r="12.35"/><circle cx="790.9" cy="331.6" r="12.35"/><circle cx="790.9" cy="336.2" r="12.35"/><circle cx="790.9" cy="338.9" r="12.35"/><circle cx="790.9" cy="340.6" r="12.35"/><circle cx="790.9" cy="347.9" r="12.35"/><circle cx="790.9" cy="349.8" r="12.35"/><circle cx="790.9" cy="351.2" r="12.35"/><circle cx="790.9" cy="354.2" r="12.35"/><circle cx="790.9" cy="355.8" r="12.35"/><circle cx="790.9" cy="357.1" r="12.35"/><circle cx="790.9" cy="359.7" r="12.35"/><circle cx="790.9" cy="365.9" r="12.35"/><circle cx="790.9" cy="367.1" r="12.35"/><circle cx="790.9" cy="370.0" r="12.35"/><circle cx="790.9" cy="371.7" r="12.35"/><circle cx="790.9" cy="373.4" r="12.35"/><circle cx="790.9" cy="374.7" r="12.35"/><circle cx="790.9" cy="385.0" r="12.35"/><circle cx="790.9" cy="395.0" r="12.35"/><circle cx="790.9" cy="405.0" r="12.35"/><circle cx="790.9" cy="418.0" r="12.35"/><circle cx="790.9" cy="435.0" r="12.35"/><circle cx="790.9" cy="441.0" r="12.35"/><circle cx="847.2" cy="194.4" r="12.35"/><circle cx="847.2" cy="209.2" r="12.35"/><circle cx="847.2" cy="216.7" r="12.35"/><circle cx="847.2" cy="224.5" r="12.35"/><circle cx="847.2" cy="232.0" r="12.35"/><circle cx="847.2" cy="239.0" r="12.35"/><circle cx="847.2" cy="246.0" r="12.35"/><circle cx="847.2" cy="248.8" r="12.35"/><circle cx="847.2" cy="251.8" r="12.35"/><circle cx="847.2" cy="254.2" r="12.35"/><circle cx="847.2" cy="255.5" r="12.35"/><circle cx="847.2" cy="257.0" r="12.35"/><circle cx="847.2" cy="259.7" r="12.35"/><circle cx="847.2" cy="263.8" r="12.35"/><circle cx="847.2" cy="269.7" r="12.35"/><circle cx="847.2" cy="271.1" r="12.35"/><circle cx="847.2" cy="274.1" r="12.35"/><circle cx="847.2" cy="275.5" r="12.35"/><circle cx="847.2" cy="277.0" r="12.35"/><circle cx="847.2" cy="279.8" r="12.35"/><circle cx="847.2" cy="281.3" r="12.35"/><circle cx="847.2" cy="288.8" r="12.35"/><circle cx="847.2" cy="293.7" r="12.35"/><circle cx="847.2" cy="296.6" r="12.35"/><circle cx="847.2" cy="299.1" r="12.35"/><circle cx="847.2" cy="300.3" r="12.35"/><circle cx="847.2" cy="302.9" r="12.35"/><circle cx="847.2" cy="305.1" r="12.35"/><circle cx="847.2" cy="307.3" r="12.35"/><circle cx="847.2" cy="309.4" r="12.35"/><circle cx="847.2" cy="311.0" r="12.35"/><circle cx="847.2" cy="313.9" r="12.35"/><circle cx="847.2" cy="315.4" r="12.35"/><circle cx="847.2" cy="322.3" r="12.35"/><circle cx="847.2" cy="324.0" r="12.35"/><circle cx="847.2" cy="325.3" r="12.35"/><circle cx="847.2" cy="330.7" r="12.35"/><circle cx="847.2" cy="335.1" r="12.35"/><circle cx="847.2" cy="337.9" r="12.35"/><circle cx="847.2" cy="340.9" r="12.35"/><circle cx="847.2" cy="343.0" r="12.35"/><circle cx="847.2" cy="344.4" r="12.35"/><circle cx="847.2" cy="346.4" r="12.35"/><circle cx="847.2" cy="348.7" r="12.35"/><circle cx="847.2" cy="350.8" r="12.35"/><circle cx="847.2" cy="352.5" r="12.35"/><circle cx="847.2" cy="354.8" r="12.35"/><circle cx="847.2" cy="362.1" r="12.35"/><circle cx="847.2" cy="369.0" r="12.35"/><circle cx="847.2" cy="372.0" r="12.35"/><circle cx="847.2" cy="373.4" r="12.35"/><circle cx="847.2" cy="375.9" r="12.35"/><circle cx="847.2" cy="378.3" r="12.35"/><circle cx="847.2" cy="381.2" r="12.35"/><circle cx="847.2" cy="383.3" r="12.35"/><circle cx="847.2" cy="394.0" r="12.35"/><circle cx="847.2" cy="412.8" r="12.35"/><circle cx="847.2" cy="467.6" r="12.35"/><circle cx="964.8" cy="91.0" r="12.35"/><circle cx="964.8" cy="183.4" r="12.35"/><circle cx="964.8" cy="190.0" r="12.35"/><circle cx="964.8" cy="199.7" r="12.35"/><circle cx="964.8" cy="206.3" r="12.35"/><circle cx="964.8" cy="231.7" r="12.35"/><circle cx="964.8" cy="236.0" r="12.35"/><circle cx="964.8" cy="241.8" r="12.35"/><circle cx="964.8" cy="244.2" r="12.35"/><circle cx="964.8" cy="246.1" r="12.35"/><circle cx="964.8" cy="252.8" r="12.35"/><circle cx="964.8" cy="255.6" r="12.35"/><circle cx="964.8" cy="258.6" r="12.35"/><circle cx="964.8" cy="260.1" r="12.35"/><circle cx="964.8" cy="262.9" r="12.35"/><circle cx="964.8" cy="265.7" r="12.35"/><circle cx="964.8" cy="267.5" r="12.35"/><circle cx="964.8" cy="269.7" r="12.35"/><circle cx="964.8" cy="271.5" r="12.35"/><circle cx="964.8" cy="274.3" r="12.35"/><circle cx="964.8" cy="275.8" r="12.35"/><circle cx="964.8" cy="277.6" r="12.35"/><circle cx="964.8" cy="279.1" r="12.35"/><circle cx="964.8" cy="280.9" r="12.35"/><circle cx="964.8" cy="282.1" r="12.35"/><circle cx="964.8" cy="285.0" r="12.35"/><circle cx="964.8" cy="287.5" r="12.35"/><circle cx="964.8" cy="294.4" r="12.35"/><circle cx="964.8" cy="300.0" r="12.35"/><circle cx="964.8" cy="301.4" r="12.35"/><circle cx="964.8" cy="306.7" r="12.35"/><circle cx="964.8" cy="309.5" r="12.35"/><circle cx="964.8" cy="311.1" r="12.35"/><circle cx="964.8" cy="317.2" r="12.35"/><circle cx="964.8" cy="318.4" r="12.35"/><circle cx="964.8" cy="319.6" r="12.35"/><circle cx="964.8" cy="324.3" r="12.35"/><circle cx="964.8" cy="326.2" r="12.35"/><circle cx="964.8" cy="328.1" r="12.35"/><circle cx="964.8" cy="330.5" r="12.35"/><circle cx="964.8" cy="331.9" r="12.35"/><circle cx="964.8" cy="338.3" r="12.35"/><circle cx="964.8" cy="340.3" r="12.35"/><circle cx="964.8" cy="343.3" r="12.35"/><circle cx="964.8" cy="344.5" r="12.35"/><circle cx="964.8" cy="346.5" r="12.35"/><circle cx="964.8" cy="353.4" r="12.35"/><circle cx="964.8" cy="355.3" r="12.35"/><circle cx="964.8" cy="358.1" r="12.35"/><circle cx="964.8" cy="360.0" r="12.35"/><circle cx="964.8" cy="362.4" r="12.35"/><circle cx="964.8" cy="365.3" r="12.35"/><circle cx="964.8" cy="367.5" r="12.35"/><circle cx="964.8" cy="369.1" r="12.35"/><circle cx="964.8" cy="371.9" r="12.35"/><circle cx="964.8" cy="373.6" r="12.35"/><circle cx="964.8" cy="379.9" r="12.35"/><circle cx="964.8" cy="381.4" r="12.35"/><circle cx="964.8" cy="384.3" r="12.35"/><circle cx="964.8" cy="386.4" r="12.35"/><circle cx="964.8" cy="391.6" r="12.35"/><circle cx="964.8" cy="399.3" r="12.35"/><circle cx="964.8" cy="406.4" r="12.35"/><circle cx="964.8" cy="443.9" r="12.35"/><circle cx="964.8" cy="474.0" r="12.35"/><circle cx="1001.1" cy="185.7" r="12.35"/><circle cx="1001.1" cy="232.3" r="12.35"/><circle cx="1001.1" cy="238.0" r="12.35"/><circle cx="1001.1" cy="240.8" r="12.35"/><circle cx="1001.1" cy="247.4" r="12.35"/><circle cx="1001.1" cy="248.7" r="12.35"/><circle cx="1001.1" cy="250.5" r="12.35"/><circle cx="1001.1" cy="253.3" r="12.35"/><circle cx="1001.1" cy="255.9" r="12.35"/><circle cx="1001.1" cy="260.4" r="12.35"/><circle cx="1001.1" cy="265.7" r="12.35"/><circle cx="1001.1" cy="267.3" r="12.35"/><circle cx="1001.1" cy="269.4" r="12.35"/><circle cx="1001.1" cy="272.1" r="12.35"/><circle cx="1001.1" cy="276.3" r="12.35"/><circle cx="1001.1" cy="278.2" r="12.35"/><circle cx="1001.1" cy="279.9" r="12.35"/><circle cx="1001.1" cy="282.3" r="12.35"/><circle cx="1001.1" cy="283.7" r="12.35"/><circle cx="1001.1" cy="285.7" r="12.35"/><circle cx="1001.1" cy="287.4" r="12.35"/><circle cx="1001.1" cy="288.9" r="12.35"/><circle cx="1001.1" cy="291.2" r="12.35"/><circle cx="1001.1" cy="293.8" r="12.35"/><circle cx="1001.1" cy="296.0" r="12.35"/><circle cx="1001.1" cy="298.3" r="12.35"/><circle cx="1001.1" cy="299.6" r="12.35"/><circle cx="1001.1" cy="302.3" r="12.35"/><circle cx="1001.1" cy="304.6" r="12.35"/><circle cx="1001.1" cy="307.4" r="12.35"/><circle cx="1001.1" cy="309.0" r="12.35"/><circle cx="1001.1" cy="316.5" r="12.35"/><circle cx="1001.1" cy="319.4" r="12.35"/><circle cx="1001.1" cy="321.0" r="12.35"/><circle cx="1001.1" cy="322.8" r="12.35"/><circle cx="1001.1" cy="325.0" r="12.35"/><circle cx="1001.1" cy="327.2" r="12.35"/><circle cx="1001.1" cy="332.8" r="12.35"/><circle cx="1001.1" cy="335.6" r="12.35"/><circle cx="1001.1" cy="337.7" r="12.35"/><circle cx="1001.1" cy="340.4" r="12.35"/><circle cx="1001.1" cy="341.7" r="12.35"/><circle cx="1001.1" cy="343.9" r="12.35"/><circle cx="1001.1" cy="346.7" r="12.35"/><circle cx="1001.1" cy="352.6" r="12.35"/><circle cx="1001.1" cy="359.6" r="12.35"/><circle cx="1001.1" cy="361.3" r="12.35"/><circle cx="1001.1" cy="363.7" r="12.35"/><circle cx="1001.1" cy="365.5" r="12.35"/><circle cx="1001.1" cy="367.8" r="12.35"/><circle cx="1001.1" cy="370.2" r="12.35"/><circle cx="1001.1" cy="372.1" r="12.35"/><circle cx="1001.1" cy="374.3" r="12.35"/><circle cx="1001.1" cy="376.8" r="12.35"/><circle cx="1001.1" cy="388.8" r="12.35"/><circle cx="1001.1" cy="401.1" r="12.35"/><circle cx="1001.1" cy="421.7" r="12.35"/><circle cx="1103.2" cy="120.1" r="12.35"/><circle cx="1103.2" cy="178.2" r="12.35"/><circle cx="1103.2" cy="194.7" r="12.35"/><circle cx="1103.2" cy="208.4" r="12.35"/><circle cx="1103.2" cy="215.0" r="12.35"/><circle cx="1103.2" cy="222.0" r="12.35"/><circle cx="1103.2" cy="228.0" r="12.35"/><circle cx="1103.2" cy="229.9" r="12.35"/><circle cx="1103.2" cy="231.3" r="12.35"/><circle cx="1103.2" cy="233.4" r="12.35"/><circle cx="1103.2" cy="235.5" r="12.35"/><circle cx="1103.2" cy="236.9" r="12.35"/><circle cx="1103.2" cy="239.7" r="12.35"/><circle cx="1103.2" cy="245.6" r="12.35"/><circle cx="1103.2" cy="246.9" r="12.35"/><circle cx="1103.2" cy="248.6" r="12.35"/><circle cx="1103.2" cy="253.0" r="12.35"/><circle cx="1103.2" cy="258.7" r="12.35"/><circle cx="1103.2" cy="260.4" r="12.35"/><circle cx="1103.2" cy="265.0" r="12.35"/><circle cx="1103.2" cy="267.2" r="12.35"/><circle cx="1103.2" cy="268.8" r="12.35"/><circle cx="1103.2" cy="275.5" r="12.35"/><circle cx="1103.2" cy="278.4" r="12.35"/><circle cx="1103.2" cy="280.8" r="12.35"/><circle cx="1103.2" cy="282.4" r="12.35"/><circle cx="1103.2" cy="285.4" r="12.35"/><circle cx="1103.2" cy="288.0" r="12.35"/><circle cx="1103.2" cy="290.4" r="12.35"/><circle cx="1103.2" cy="292.5" r="12.35"/><circle cx="1103.2" cy="295.2" r="12.35"/><circle cx="1103.2" cy="297.3" r="12.35"/><circle cx="1103.2" cy="299.3" r="12.35"/><circle cx="1103.2" cy="304.2" r="12.35"/><circle cx="1103.2" cy="306.5" r="12.35"/><circle cx="1103.2" cy="307.8" r="12.35"/><circle cx="1103.2" cy="310.1" r="12.35"/><circle cx="1103.2" cy="312.7" r="12.35"/><circle cx="1103.2" cy="315.6" r="12.35"/><circle cx="1103.2" cy="322.1" r="12.35"/><circle cx="1103.2" cy="323.4" r="12.35"/><circle cx="1103.2" cy="325.9" r="12.35"/><circle cx="1103.2" cy="330.7" r="12.35"/><circle cx="1103.2" cy="333.6" r="12.35"/><circle cx="1103.2" cy="335.7" r="12.35"/><circle cx="1103.2" cy="337.2" r="12.35"/><circle cx="1103.2" cy="339.6" r="12.35"/><circle cx="1103.2" cy="341.1" r="12.35"/><circle cx="1103.2" cy="343.4" r="12.35"/><circle cx="1103.2" cy="347.9" r="12.35"/><circle cx="1103.2" cy="349.2" r="12.35"/><circle cx="1103.2" cy="351.1" r="12.35"/><circle cx="1103.2" cy="354.1" r="12.35"/><circle cx="1103.2" cy="355.8" r="12.35"/><circle cx="1103.2" cy="357.0" r="12.35"/><circle cx="1103.2" cy="359.4" r="12.35"/><circle cx="1103.2" cy="360.7" r="12.35"/><circle cx="1103.2" cy="362.5" r="12.35"/><circle cx="1103.2" cy="366.8" r="12.35"/><circle cx="1103.2" cy="372.2" r="12.35"/><circle cx="1103.2" cy="377.8" r="12.35"/><circle cx="1103.2" cy="379.6" r="12.35"/><circle cx="1103.2" cy="381.6" r="12.35"/><circle cx="1103.2" cy="386.8" r="12.35"/><circle cx="1103.2" cy="388.7" r="12.35"/><circle cx="1103.2" cy="390.5" r="12.35"/><circle cx="1103.2" cy="392.7" r="12.35"/><circle cx="1103.2" cy="394.4" r="12.35"/><circle cx="1103.2" cy="395.6" r="12.35"/><circle cx="1103.2" cy="397.2" r="12.35"/><circle cx="1103.2" cy="401.5" r="12.35"/><circle cx="1103.2" cy="405.2" r="12.35"/><circle cx="1154.0" cy="161.6" r="12.35"/><circle cx="1154.0" cy="172.7" r="12.35"/><circle cx="1154.0" cy="192.5" r="12.35"/><circle cx="1154.0" cy="201.3" r="12.35"/><circle cx="1154.0" cy="223.7" r="12.35"/><circle cx="1154.0" cy="230.9" r="12.35"/><circle cx="1154.0" cy="238.0" r="12.35"/><circle cx="1154.0" cy="245.0" r="12.35"/><circle cx="1154.0" cy="250.0" r="12.35"/><circle cx="1154.0" cy="257.0" r="12.35"/><circle cx="1154.0" cy="259.3" r="12.35"/><circle cx="1154.0" cy="261.8" r="12.35"/><circle cx="1154.0" cy="263.8" r="12.35"/><circle cx="1154.0" cy="265.1" r="12.35"/><circle cx="1154.0" cy="267.2" r="12.35"/><circle cx="1154.0" cy="270.1" r="12.35"/><circle cx="1154.0" cy="272.4" r="12.35"/><circle cx="1154.0" cy="273.8" r="12.35"/><circle cx="1154.0" cy="278.4" r="12.35"/><circle cx="1154.0" cy="281.4" r="12.35"/><circle cx="1154.0" cy="283.5" r="12.35"/><circle cx="1154.0" cy="285.1" r="12.35"/><circle cx="1154.0" cy="290.6" r="12.35"/><circle cx="1154.0" cy="292.6" r="12.35"/><circle cx="1154.0" cy="295.1" r="12.35"/><circle cx="1154.0" cy="302.3" r="12.35"/><circle cx="1154.0" cy="304.7" r="12.35"/><circle cx="1154.0" cy="306.8" r="12.35"/><circle cx="1154.0" cy="308.5" r="12.35"/><circle cx="1154.0" cy="310.8" r="12.35"/><circle cx="1154.0" cy="313.8" r="12.35"/><circle cx="1154.0" cy="316.7" r="12.35"/><circle cx="1154.0" cy="318.0" r="12.35"/><circle cx="1154.0" cy="320.2" r="12.35"/><circle cx="1154.0" cy="322.3" r="12.35"/><circle cx="1154.0" cy="323.7" r="12.35"/><circle cx="1154.0" cy="325.8" r="12.35"/><circle cx="1154.0" cy="329.8" r="12.35"/><circle cx="1154.0" cy="332.2" r="12.35"/><circle cx="1154.0" cy="337.7" r="12.35"/><circle cx="1154.0" cy="339.9" r="12.35"/><circle cx="1154.0" cy="342.0" r="12.35"/><circle cx="1154.0" cy="343.2" r="12.35"/><circle cx="1154.0" cy="345.7" r="12.35"/><circle cx="1154.0" cy="347.8" r="12.35"/><circle cx="1154.0" cy="349.6" r="12.35"/><circle cx="1154.0" cy="352.2" r="12.35"/><circle cx="1154.0" cy="357.8" r="12.35"/><circle cx="1154.0" cy="359.6" r="12.35"/><circle cx="1154.0" cy="361.3" r="12.35"/><circle cx="1154.0" cy="363.6" r="12.35"/><circle cx="1154.0" cy="365.1" r="12.35"/><circle cx="1154.0" cy="366.6" r="12.35"/><circle cx="1154.0" cy="368.3" r="12.35"/><circle cx="1154.0" cy="374.3" r="12.35"/><circle cx="1154.0" cy="376.2" r="12.35"/><circle cx="1154.0" cy="378.8" r="12.35"/><circle cx="1154.0" cy="380.6" r="12.35"/><circle cx="1154.0" cy="382.3" r="12.35"/><circle cx="1154.0" cy="383.9" r="12.35"/><circle cx="1154.0" cy="386.2" r="12.35"/><circle cx="1154.0" cy="388.7" r="12.35"/><circle cx="1154.0" cy="391.3" r="12.35"/><circle cx="1154.0" cy="393.2" r="12.35"/><circle cx="1154.0" cy="395.1" r="12.35"/><circle cx="1154.0" cy="397.1" r="12.35"/><circle cx="1154.0" cy="399.5" r="12.35"/><circle cx="1154.0" cy="404.2" r="12.35"/><circle cx="1154.0" cy="411.7" r="12.35"/><circle cx="1154.0" cy="439.9" r="12.35"/></g>
<polyline points="153.8,154.4 161.9,160.5 163.2,205.0 166.8,194.5 171.0,221.0 173.3,290.0 173.6,362.1 177.4,260.1 178.8,288.0 181.5,249.4 186.5,260.9 199.6,445.3 205.4,443.6 211.2,418.9 217.7,478.2 226.8,466.7 245.7,427.2 250.7,397.5 250.3,444.4 261.4,363.0 267.1,395.9 272.9,404.9 273.7,427.2 277.8,445.3 288.9,401.7 293.3,407.7 298.8,401.7 306.2,412.1 310.6,338.5 317.0,336.5 322.5,394.8 327.9,354.3 333.3,414.6 339.3,401.7 344.2,341.5 350.1,324.7 356.0,378.0 361.0,372.1 361.5,402.7 366.9,349.9 378.3,432.3 382.7,417.5 389.1,412.6 394.0,419.0 400.9,421.0 406.8,398.3 419.6,336.0 422.6,301.5 421.6,337.0 428.5,340.5 433.5,282.2 444.8,353.8 450.2,283.7 455.7,298.5 461.6,286.2 467.0,340.0 472.5,324.2 478.4,395.3 483.3,308.4 488.8,318.3 495.7,317.3 500.8,283.7 506.2,301.4 511.8,276.5 511.3,311.2 524.6,303.3 534.0,268.8 533.5,302.3 550.8,286.5 556.2,333.0 573.1,131.9 579.0,138.8 579.0,214.8 589.9,191.1 595.3,241.5 600.2,210.9 605.5,357.0 611.9,324.4 613.3,349.0 619.3,403.7 625.2,434.8 631.9,425.2 645.2,550.4 658.5,465.9 665.2,491.9 678.5,451.1 679.3,479.3 691.9,452.6 697.0,497.0 710.4,505.1 712.0,516.5 718.8,411.8 725.0,501.0 739.1,434.8 743.8,473.9 752.6,450.9 758.9,378.0 765.2,412.4 769.3,399.3 768.8,441.5 785.5,381.1 799.0,440.0 806.3,395.2 812.7,440.9 818.2,417.8 819.3,433.2 825.4,390.4 832.5,386.0 839.6,302.6 883.5,271.5 900.0,280.2 909.3,291.7 918.0,267.0 918.0,293.9 937.0,392.2 973.7,329.7 973.7,380.1 986.9,244.7 992.4,259.5 997.9,330.8 1005.0,310.0 1008.8,371.4 1024.7,350.5 1024.2,460.1 1032.7,529.6 1042.9,483.7 1059.0,496.6 1064.8,428.1 1064.8,498.0 1075.4,422.7 1086.6,447.7 1096.8,491.3 1107.9,438.8 1118.4,464.5 1129.5,432.6 1140.2,464.3 1150.6,474.7 1182.9,384.7 1194.5,419.3 1204.3,391.9 1215.3,309.6 1219.7,328.3 1220.8,357.9" fill="none" stroke="#009191" stroke-width="4.5" stroke-linejoin="round" stroke-linecap="butt"/>
<path d="M1209.8,455.5 V495.8 M1206.3,455.5 H1213.3 M1206.3,495.8 H1213.3" stroke="#555" stroke-width="1.8"/>
<path d="M151.3,838.3 V972.4" stroke="#3d3d3d" stroke-width="1.8"/>
<path d="M140.8,894.7 L161.8,915.7 M140.8,915.7 L161.8,894.7" stroke="#DA6D00" stroke-width="4.2"/>
<path d="M171.90,887.60 L165.00,895.30 L166.20,896.90 L170.90,893.20 L172.90,893.20 L177.60,896.90 L178.80,895.30 Z" fill="#DF8233"/>
<path d="M171.90,891.60 V919.00" stroke="#DF8233" stroke-width="2.15"/>
<path d="M228.9,729.3 V933.7" stroke="#666" stroke-width="1.8"/>
<path d="M227.2,729.3 H230.7 M227.2,933.7 H230.7" stroke="#999" stroke-width="1.8"/>
<rect x="217.75" y="820.45" width="22.10" height="22.10" fill="#999999" stroke="#006CDC" stroke-width="4.6"/>
<path d="M203.10,812.40 L196.20,820.10 L197.40,821.70 L202.10,818.00 L204.10,818.00 L208.80,821.70 L210.00,820.10 Z" fill="#DF8233"/>
<path d="M203.10,816.40 V843.70" stroke="#DF8233" stroke-width="2.15"/>
<path d="M245.5,813.6 V979.3" stroke="#3d3d3d" stroke-width="1.8"/>
<path d="M243.8,813.6 H247.2 M243.8,979.3 H247.2" stroke="#8a8a8a" stroke-width="1.8"/>
<rect x="234.35" y="885.35" width="22.10" height="22.10" fill="#999999" stroke="#006CDC" stroke-width="4.6"/>
<path d="M276.00,880.60 L269.10,888.30 L270.30,889.90 L275.00,886.20 L277.00,886.20 L281.70,889.90 L282.90,888.30 Z" fill="#DF8233"/>
<path d="M276.00,884.60 V911.90" stroke="#DF8233" stroke-width="2.15"/>
<path d="M540.9,865.8 V1021.0" stroke="#5c5c5c" stroke-width="1.8"/>
<path d="M537.4,865.8 H544.4 M537.4,1021.0 H544.4" stroke="#ababab" stroke-width="1.8"/>
<circle cx="540.90" cy="943.50" r="15.10" fill="none" stroke="#006CDC" stroke-width="4.2"/>
<path d="M537.4,943.5 H544.4" stroke="#333" stroke-width="1.5"/>
<path d="M595.3,798.9 V955.1" stroke="#3d3d3d" stroke-width="1.7"/>
<path d="M593.8,798.9 H596.8 M593.8,955.1 H596.8" stroke="#444" stroke-width="1.7"/>
<circle cx="595.30" cy="877.00" r="15.10" fill="#999999" stroke="#DA6D00" stroke-width="4.2"/>
<path d="M567.50,857.70 L560.60,865.40 L561.80,867.00 L566.50,863.30 L568.50,863.30 L573.20,867.00 L574.40,865.40 Z" fill="#DF8233"/>
<path d="M567.50,861.70 V889.00" stroke="#DF8233" stroke-width="2.15"/>
<path d="M686.1,828.8 V977.7" stroke="#3d3d3d" stroke-width="1.8"/>
<path d="M684.1,828.8 H688.1 M684.1,977.7 H688.1" stroke="#8a8a8a" stroke-width="1.8"/>
<polygon points="686.10,884.65 668.89,913.15 703.31,913.15" fill="#999999" stroke="#006CDC" stroke-width="4.5" stroke-linejoin="miter" stroke-miterlimit="10"/>
<path d="M659.30,882.80 L652.40,890.50 L653.60,892.10 L658.30,888.40 L660.30,888.40 L665.00,892.10 L666.20,890.50 Z" fill="#DF8233"/>
<path d="M659.30,886.80 V914.00" stroke="#DF8233" stroke-width="2.15"/>
<path d="M722.2,848.1 V1006.6" stroke="#3d3d3d" stroke-width="1.8"/>
<path d="M720.7,848.1 H723.7 M720.7,1006.6 H723.7" stroke="#8a8a8a" stroke-width="1.8"/>
<polygon points="722.20,907.88 705.01,937.45 739.39,937.45" fill="none" stroke="#006CDC" stroke-width="4.5" stroke-linejoin="miter" stroke-miterlimit="10"/>
<path d="M720.2,927.5 H724.2" stroke="#333" stroke-width="1.5"/>
<path d="M790.8,928.0 V1056.7" stroke="#3d3d3d" stroke-width="1.8"/>
<path d="M789.3,928.0 H792.3 M789.3,1056.7 H792.3" stroke="#8a8a8a" stroke-width="1.8"/>
<polygon points="790.80,973.23 773.74,1002.15 807.86,1002.15" fill="none" stroke="#006CDC" stroke-width="4.5" stroke-linejoin="miter" stroke-miterlimit="10"/>
<path d="M788.8,992.5 H792.8" stroke="#333" stroke-width="1.5"/>
<path d="M847.3,952.2 V1076.9" stroke="#3d3d3d" stroke-width="1.8"/>
<path d="M845.8,952.2 H848.8 M845.8,1076.9 H848.8" stroke="#8a8a8a" stroke-width="1.8"/>
<polygon points="847.30,994.78 862.37,1014.70 847.30,1034.62 832.23,1014.70" fill="#999999" stroke="#DA6D00" stroke-width="4.2" stroke-linejoin="miter" stroke-miterlimit="10"/>
<path d="M877.20,1030.10 L870.30,1022.40 L871.50,1020.80 L876.20,1024.50 L878.20,1024.50 L882.90,1020.80 L884.10,1022.40 Z" fill="#2070DC"/>
<path d="M877.20,1026.10 V998.50" stroke="#2070DC" stroke-width="2.15"/>
<path d="M964.6,843.0 V1006.3" stroke="#3d3d3d" stroke-width="1.8"/>
<path d="M963.1,843.0 H966.1 M963.1,1006.3 H966.1" stroke="#8a8a8a" stroke-width="1.8"/>
<polygon points="964.60,904.98 979.67,924.90 964.60,944.82 949.53,924.90" fill="none" stroke="#DA6D00" stroke-width="4.2" stroke-linejoin="miter" stroke-miterlimit="10"/>
<path d="M962.1,924.9 H967.1" stroke="#333" stroke-width="1.5"/>
<path d="M999.4,1013.5 H1003.4" stroke="#555" stroke-width="1.3"/>
<polygon points="1001.40,1050.98 1016.47,1070.90 1001.40,1090.82 986.33,1070.90" fill="#999999" stroke="#DA6D00" stroke-width="4.2" stroke-linejoin="miter" stroke-miterlimit="10"/>
<path d="M1027.70,1091.10 L1020.80,1083.40 L1022.00,1081.80 L1026.70,1085.50 L1028.70,1085.50 L1033.40,1081.80 L1034.60,1083.40 Z" fill="#2070DC"/>
<path d="M1027.70,1087.10 V1060.20" stroke="#2070DC" stroke-width="2.15"/>
<path d="M1103.5,906.5 V1044.8" stroke="#3d3d3d" stroke-width="1.9"/>
<path d="M1098.0,906.5 H1109.0 M1098.0,1044.8 H1109.0" stroke="#5a5a5a" stroke-width="1.9"/>
<polygon points="1103.50,994.92 1086.46,965.55 1120.54,965.55" fill="#999999" stroke="#006CDC" stroke-width="4.5" stroke-linejoin="miter" stroke-miterlimit="10"/>
<path d="M1074.20,958.00 L1067.30,965.70 L1068.50,967.30 L1073.20,963.60 L1075.20,963.60 L1079.90,967.30 L1081.10,965.70 Z" fill="#DF8233"/>
<path d="M1074.20,962.00 V988.80" stroke="#DF8233" stroke-width="2.15"/>
<path d="M1154.2,837.1 V998.4" stroke="#3d3d3d" stroke-width="1.9"/>
<path d="M1148.0,837.1 H1160.5 M1148.0,998.4 H1160.5" stroke="#444" stroke-width="1.9"/>
<polygon points="1154.20,937.38 1136.94,908.15 1171.46,908.15" fill="none" stroke="#006CDC" stroke-width="4.5" stroke-linejoin="miter" stroke-miterlimit="10"/>
<path d="M1148.2,917.7 H1160.2" stroke="#333" stroke-width="1.6"/>
<path d="M151.4,1457.4 V1541.9" stroke="#8c8c8c" stroke-width="1.4"/>
<path d="M140.9,1489.1 L161.9,1510.1 M140.9,1510.1 L161.9,1489.1" stroke="#DA6D00" stroke-width="4.2"/>
<path d="M172.90,1481.70 L166.00,1489.40 L167.20,1491.00 L171.90,1487.30 L173.90,1487.30 L178.60,1491.00 L179.80,1489.40 Z" fill="#DF8233"/>
<path d="M172.90,1485.70 V1512.60" stroke="#DF8233" stroke-width="2.15"/>
<path d="M228.9,1444.1 V1591.4" stroke="#b5b5b5" stroke-width="1.8"/>
<path d="M227.1,1444.1 H230.8 M227.1,1591.4 H230.8" stroke="#b5b5b5" stroke-width="1.8"/>
<rect x="217.75" y="1506.65" width="22.10" height="22.10" fill="#999999" stroke="#006CDC" stroke-width="4.6"/>
<path d="M205.90,1495.50 L199.00,1503.20 L200.20,1504.80 L204.90,1501.10 L206.90,1501.10 L211.60,1504.80 L212.80,1503.20 Z" fill="#DF8233"/>
<path d="M205.90,1499.50 V1526.70" stroke="#DF8233" stroke-width="2.15"/>
<path d="M245.5,1397.8 V1528.9" stroke="#777" stroke-width="1.3"/>
<path d="M243.5,1397.8 H247.5 M243.5,1528.9 H247.5" stroke="#777" stroke-width="1.3"/>
<rect x="234.35" y="1452.35" width="22.10" height="22.10" fill="#999999" stroke="#006CDC" stroke-width="4.6"/>
<path d="M276.30,1444.10 L269.40,1451.80 L270.60,1453.40 L275.30,1449.70 L277.30,1449.70 L282.00,1453.40 L283.20,1451.80 Z" fill="#DF8233"/>
<path d="M276.30,1448.10 V1475.40" stroke="#DF8233" stroke-width="2.15"/>
<path d="M540.9,1551.3 V1670.1" stroke="#8c8c8c" stroke-width="1.4"/>
<path d="M538.9,1551.3 H542.9 M538.9,1670.1 H542.9" stroke="#8c8c8c" stroke-width="1.4"/>
<circle cx="540.90" cy="1610.80" r="15.10" fill="none" stroke="#006CDC" stroke-width="4.2"/>
<path d="M537.4,1610.8 H544.4" stroke="#aaa" stroke-width="1.2"/>
<path d="M595.5,1371.9 V1504.8" stroke="#8c8c8c" stroke-width="1.4"/>
<path d="M594.0,1371.9 H597.0 M594.0,1504.8 H597.0" stroke="#8c8c8c" stroke-width="1.4"/>
<circle cx="595.50" cy="1438.20" r="15.10" fill="#999999" stroke="#DA6D00" stroke-width="4.2"/>
<path d="M567.60,1418.70 L560.70,1426.40 L561.90,1428.00 L566.60,1424.30 L568.60,1424.30 L573.30,1428.00 L574.50,1426.40 Z" fill="#DF8233"/>
<path d="M567.60,1422.70 V1449.70" stroke="#DF8233" stroke-width="2.15"/>
<path d="M686.0,1337.1 V1469.3" stroke="#8c8c8c" stroke-width="1.4"/>
<path d="M683.8,1337.1 H688.2 M683.8,1469.3 H688.2" stroke="#8c8c8c" stroke-width="1.4"/>
<polygon points="686.00,1384.41 668.90,1413.25 703.10,1413.25" fill="#999999" stroke="#006CDC" stroke-width="4.5" stroke-linejoin="miter" stroke-miterlimit="10"/>
<path d="M659.60,1382.40 L652.70,1390.10 L653.90,1391.70 L658.60,1388.00 L660.60,1388.00 L665.30,1391.70 L666.50,1390.10 Z" fill="#DF8233"/>
<path d="M659.60,1386.40 V1413.50" stroke="#DF8233" stroke-width="2.15"/>
<path d="M722.0,1406.9 V1523.2" stroke="#8c8c8c" stroke-width="1.4"/>
<path d="M720.5,1406.9 H723.5 M720.5,1523.2 H723.5" stroke="#8c8c8c" stroke-width="1.4"/>
<polygon points="722.00,1446.29 704.91,1474.95 739.09,1474.95" fill="none" stroke="#006CDC" stroke-width="4.5" stroke-linejoin="miter" stroke-miterlimit="10"/>
<path d="M720.0,1465.2 H724.0" stroke="#888" stroke-width="1.2"/>
<path d="M790.8,1444.8 V1555.5" stroke="#8c8c8c" stroke-width="1.4"/>
<path d="M789.3,1444.8 H792.3 M789.3,1555.5 H792.3" stroke="#8c8c8c" stroke-width="1.4"/>
<polygon points="790.80,1481.58 773.72,1510.15 807.88,1510.15" fill="none" stroke="#006CDC" stroke-width="4.5" stroke-linejoin="miter" stroke-miterlimit="10"/>
<path d="M788.8,1499.9 H792.8" stroke="#888" stroke-width="1.2"/>
<path d="M847.3,1525.2 V1623.0" stroke="#8c8c8c" stroke-width="1.4"/>
<path d="M845.8,1525.2 H848.8 M845.8,1623.0 H848.8" stroke="#8c8c8c" stroke-width="1.4"/>
<polygon points="847.30,1554.28 862.37,1574.20 847.30,1594.12 832.23,1574.20" fill="#999999" stroke="#DA6D00" stroke-width="4.2" stroke-linejoin="miter" stroke-miterlimit="10"/>
<path d="M877.50,1590.60 L870.60,1582.90 L871.80,1581.30 L876.50,1585.00 L878.50,1585.00 L883.20,1581.30 L884.40,1582.90 Z" fill="#2070DC"/>
<path d="M877.50,1586.60 V1559.00" stroke="#2070DC" stroke-width="2.15"/>
<path d="M964.6,1471.6 V1590.0" stroke="#8c8c8c" stroke-width="1.4"/>
<path d="M962.9,1471.6 H966.4 M962.9,1590.0 H966.4" stroke="#8c8c8c" stroke-width="1.4"/>
<polygon points="964.60,1511.48 979.67,1531.40 964.60,1551.32 949.53,1531.40" fill="none" stroke="#DA6D00" stroke-width="4.2" stroke-linejoin="miter" stroke-miterlimit="10"/>
<path d="M962.1,1531.4 H967.1" stroke="#888" stroke-width="1.2"/>
<path d="M1001.0,1573.6 V1660.5" stroke="#8c8c8c" stroke-width="1.4"/>
<path d="M999.5,1573.6 H1002.5 M999.5,1660.5 H1002.5" stroke="#8c8c8c" stroke-width="1.4"/>
<polygon points="1001.00,1597.38 1016.07,1617.30 1001.00,1637.22 985.93,1617.30" fill="#999999" stroke="#DA6D00" stroke-width="4.2" stroke-linejoin="miter" stroke-miterlimit="10"/>
<path d="M1027.80,1637.60 L1020.90,1629.90 L1022.10,1628.30 L1026.80,1632.00 L1028.80,1632.00 L1033.50,1628.30 L1034.70,1629.90 Z" fill="#2070DC"/>
<path d="M1027.80,1633.60 V1606.60" stroke="#2070DC" stroke-width="2.15"/>
<path d="M1103.3,1459.5 V1569.7" stroke="#8c8c8c" stroke-width="1.4"/>
<path d="M1097.8,1459.5 H1108.8 M1097.8,1569.7 H1108.8" stroke="#8c8c8c" stroke-width="1.4"/>
<polygon points="1103.30,1533.41 1086.26,1504.85 1120.34,1504.85" fill="#999999" stroke="#006CDC" stroke-width="4.5" stroke-linejoin="miter" stroke-miterlimit="10"/>
<path d="M1074.30,1496.70 L1067.40,1504.40 L1068.60,1506.00 L1073.30,1502.30 L1075.30,1502.30 L1080.00,1506.00 L1081.20,1504.40 Z" fill="#DF8233"/>
<path d="M1074.30,1500.70 V1527.10" stroke="#DF8233" stroke-width="2.15"/>
<path d="M1154.4,1459.5 V1575.9" stroke="#aaa" stroke-width="1.4"/>
<path d="M1148.2,1459.5 H1160.7 M1148.2,1575.9 H1160.7" stroke="#aaa" stroke-width="1.4"/>
<polygon points="1154.40,1536.84 1137.38,1508.55 1171.42,1508.55" fill="none" stroke="#006CDC" stroke-width="4.5" stroke-linejoin="miter" stroke-miterlimit="10"/>
<path d="M1148.4,1517.8 H1160.4" stroke="#aaa" stroke-width="1.4"/>
</svg>
</body></html>
